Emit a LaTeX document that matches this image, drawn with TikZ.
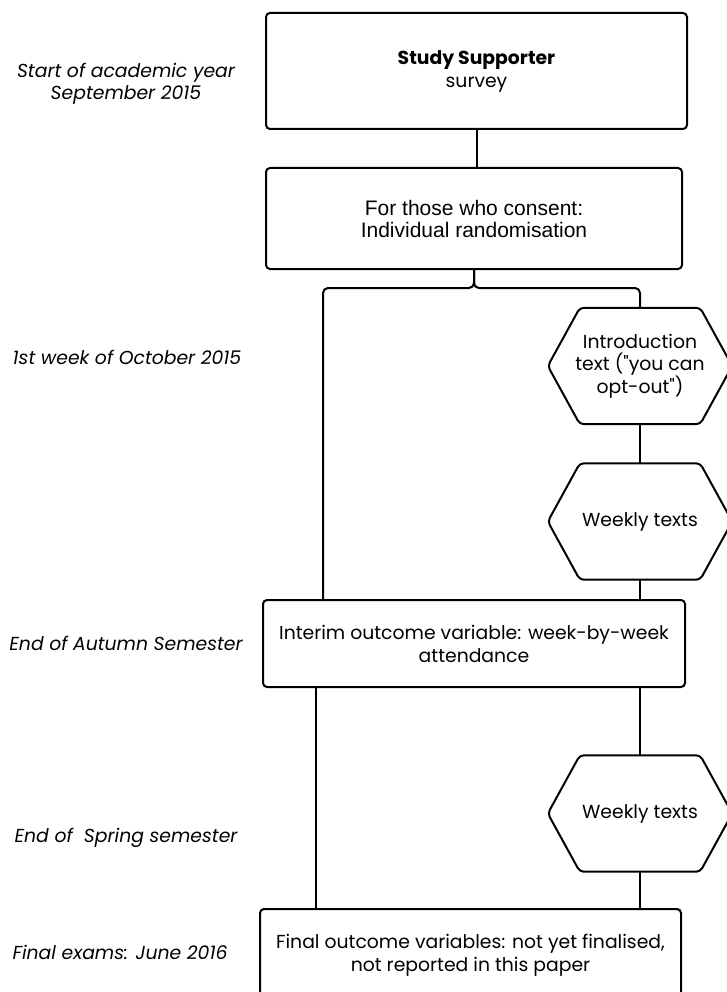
\documentclass[tikz,border=0pt]{standalone}
\usepackage{fontspec}
\setmainfont{Poppins}
\newfontfamily\arialfont{Liberation Sans}

\begin{document}
\begin{tikzpicture}[x=1pt,y=-1pt,
   box/.style={draw,line width=2pt,rounded corners=4pt,align=center,
     minimum width=421pt,font=\fontsize{18.8}{23}\selectfont},
   hexa/.style={minimum width=184pt,minimum height=116pt,align=center,
     font=\fontsize{18.8}{22}\selectfont},
   hexline/.style={line width=2pt,rounded corners=4pt},
   link/.style={line width=2pt},
   thinlink/.style={line width=1.2pt},
   period/.style={font=\fontsize{18.8}{22}\selectfont\itshape,align=center}]
   \useasboundingbox (0,0) rectangle (726,992);
   % time line on the left
   \node[period] (tStart)  at (126,84)  {Start of academic year\\September 2015};
   \node[period] (tOct)    at (127,357) {1st week of October 2015};
   \node[period] (tAutumn) at (126,643) {End of Autumn Semester};
   \node[period] (tSpring) at (126,838) {End of\ \ Spring semester};
   \node[period] (tExams)  at (120,952) {Final exams: June 2016};
   % boxes
   \node[box,minimum height=116pt] (survey) at (476.5,71)
     {\textbf{Study Supporter}\\survey};
   \node[box,minimum width=416pt,minimum height=101pt,
     font=\arialfont\fontsize{21}{22}\selectfont] (consent) at (474,218.5)
     {For those who consent:\\Individual randomisation};
   \node[box,minimum width=422pt,minimum height=87pt] (interim) at (474,643.5)
     {Interim outcome variable: week-by-week\\attendance};
   \node[box,minimum height=92pt] (final) at (470.5,955)
     {Final outcome variables: not yet finalised,\\not reported in this paper};
   % texts sent to the treatment group
   \node[hexa] (intro) at (640,366)
     {Introduction\\text (\textquotedbl you can\\opt-out\textquotedbl)};
   \node[hexa] (weekA) at (640,521.5) {Weekly texts};
   \node[hexa] (weekB) at (640,813.5) {Weekly texts};
   \foreach \h in {intro,weekA,weekB}
     \draw[hexline] ([xshift=32pt]\h.north west) -- ([xshift=-32pt]\h.north east)
       -- (\h.east) -- ([xshift=-32pt]\h.south east)
       -- ([xshift=32pt]\h.south west) -- (\h.west) -- cycle;
   % connectors
   \coordinate (ctrl) at (323,288);
   \coordinate (treat) at (640,288);
   \coordinate (ctrlB) at (316,0);
   \draw[link] (survey.south) -- (survey.south |- consent.north);
   \draw[link,rounded corners=5pt] (consent.south) |- (ctrl) -- (ctrl |- interim.north);
   \draw[link,rounded corners=5pt] (consent.south) |- (treat) -- (intro.north);
   \draw[link] (intro.south) -- (weekA.north);
   \draw[link] (weekA.south) -- (weekA.south |- interim.north);
   \draw[thinlink] (interim.south -| ctrlB) -- (final.north -| ctrlB);
   \draw[link] (interim.south -| weekB.north) -- (weekB.north);
   \draw[link] (weekB.south) -- (weekB.south |- final.north);
\end{tikzpicture}
\end{document}
